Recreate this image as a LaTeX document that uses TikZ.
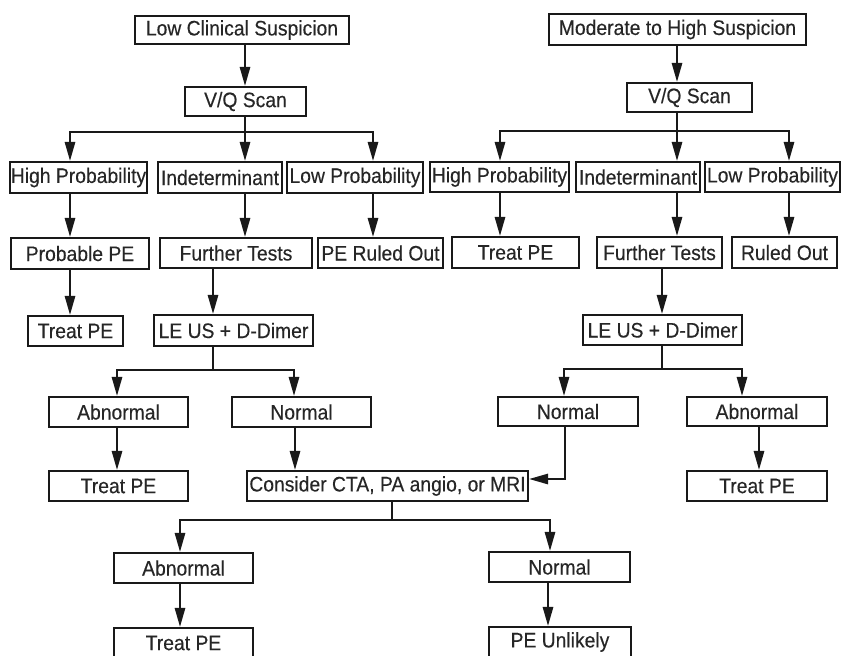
\documentclass[tikz,border=0pt]{standalone}
\usepackage{fontspec}
\setmainfont{Liberation Sans}[FakeStretch=0.92,FakeBold=0.25]
\usetikzlibrary{arrows.meta}
\tikzset{
  box/.style={draw=black!90, line width=2.4pt, inner sep=0pt, minimum height=30pt,
              font=\fontsize{21}{24}\selectfont, text=black!85},
  conn/.style={draw=black!90, line width=1.5pt},
  arr/.style={conn, -{Triangle[length=19pt,width=10.5pt]}},
}
\begin{document}
\begin{tikzpicture}[x=1pt,y=-1pt]
\useasboundingbox (0,0) rectangle (841,656);
\clip (0,0) rectangle (841,656);
\fill[white] (0,0) rectangle (841,656);

% ---------- left tree ----------
\node[box, minimum width=214pt, minimum height=28pt] (L1) at (242,30) {Low Clinical Suspicion};
\node[box, minimum width=121pt, minimum height=29pt] (L2) at (245.5,101.5) {V/Q Scan};
\node[box, minimum width=137pt, minimum height=31pt] (L3a) at (78.5,177.5) {High Probability};
\node[box, minimum width=124pt, minimum height=31pt] (L3b) at (220,177.5) {Indeterminant};
\node[box, minimum width=136pt, minimum height=31pt] (L3c) at (355,177.5) {Low Probability};
\node[box, minimum width=138pt, minimum height=31pt] (L4a) at (80,253.5) {Probable PE};
\node[box, minimum width=152pt] (L4b) at (236,253) {Further Tests};
\node[box, minimum width=125pt] (L4c) at (380.5,253) {PE Ruled Out};
\node[box, minimum width=95pt] (L5a) at (75.5,331) {Treat PE};
\node[box, minimum width=159pt, minimum height=31pt] (L5b) at (233.5,330.5) {LE US + D-Dimer};
\node[box, minimum width=139pt] (L6a) at (118.5,412) {Abnormal};
\node[box, minimum width=139pt] (L6b) at (301.5,412) {Normal};
\node[box, minimum width=139pt] (L7a) at (118.5,486) {Treat PE};
\node[box, minimum width=281pt] (C) at (387.5,486) {Consider CTA, PA angio, or MRI};
\node[box, minimum width=139pt] (L8a) at (183.5,568) {Abnormal};
\node[box, minimum width=141pt] (L8b) at (559.5,567) {Normal};
\node[box, minimum width=139pt] (L9a) at (183.5,643) {Treat PE};
\node[box, minimum width=142pt] (L9b) at (560,642) {PE Unlikely};

% ---------- right tree ----------
\node[box, minimum width=257pt, minimum height=31pt] (R1) at (677.5,29.5) {Moderate to High Suspicion};
\node[box, minimum width=125pt, minimum height=29pt] (R2) at (689.5,97.5) {V/Q Scan};
\node[box, minimum width=139pt] (R3a) at (499.5,177) {High Probability};
\node[box, minimum width=124pt] (R3b) at (638,177) {Indeterminant};
\node[box, minimum width=135pt] (R3c) at (772.5,177) {Low Probability};
\node[box, minimum width=127pt, minimum height=31pt] (R4a) at (515.5,252.5) {Treat PE};
\node[box, minimum width=125pt, minimum height=31pt] (R4b) at (659.5,252.5) {Further Tests};
\node[box, minimum width=105pt, minimum height=31pt] (R4c) at (784.5,252.5) {Ruled Out};
\node[box, minimum width=159pt] (R5) at (662.5,330) {LE US + D-Dimer};
\node[box, minimum width=140pt, minimum height=29pt] (R6a) at (568,411.5) {Normal};
\node[box, minimum width=140pt, minimum height=29pt] (R6b) at (757,411.5) {Abnormal};
\node[box, minimum width=140pt] (R7) at (757,486) {Treat PE};

% ---------- left connectors ----------
\draw[arr] (245,0 |- L1.south) -- (245,0 |- L2.north);
\draw[conn] (245,0 |- L2.south) -- (245,132);
\draw[arr] (245,132) -- (245,0 |- L3b.north);
\draw[arr] (245,132) -| (70,0 |- L3a.north);
\draw[arr] (245,132) -| (373,0 |- L3c.north);
\draw[arr] (70,0 |- L3a.south) -- (70,0 |- L4a.north);
\draw[arr] (245,0 |- L3b.south) -- (245,0 |- L4b.north);
\draw[arr] (373,0 |- L3c.south) -- (373,0 |- L4c.north);
\draw[arr] (70,0 |- L4a.south) -- (70,0 |- L5a.north);
\draw[arr] (213,0 |- L4b.south) -- (213,0 |- L5b.north);
\draw[conn] (213,0 |- L5b.south) -- (213,370);
\draw[arr] (213,370) -| (117,0 |- L6a.north);
\draw[arr] (213,370) -| (294,0 |- L6b.north);
\draw[arr] (117,0 |- L6a.south) -- (117,0 |- L7a.north);
\draw[arr] (295,0 |- L6b.south) -- (295,0 |- C.north);
\draw[conn] (392,0 |- C.south) -- (392,520);
\draw[arr] (392,520) -| (180,0 |- L8a.north);
\draw[arr] (392,520) -| (550,0 |- L8b.north);
\draw[arr] (180,0 |- L8a.south) -- (180,0 |- L9a.north);
\draw[arr] (548,0 |- L8b.south) -- (548,0 |- L9b.north);

% ---------- right connectors ----------
\draw[arr] (677,0 |- R1.south) -- (677,0 |- R2.north);
\draw[conn] (677,0 |- R2.south) -- (677,131);
\draw[arr] (677,131) -- (677,0 |- R3b.north);
\draw[arr] (677,131) -| (500,0 |- R3a.north);
\draw[arr] (677,131) -| (789,0 |- R3c.north);
\draw[arr] (500,0 |- R3a.south) -- (500,0 |- R4a.north);
\draw[arr] (677,0 |- R3b.south) -- (677,0 |- R4b.north);
\draw[arr] (789,0 |- R3c.south) -- (789,0 |- R4c.north);
\draw[arr] (662,0 |- R4b.south) -- (662,0 |- R5.north);
\draw[conn] (662,0 |- R5.south) -- (662,369);
\draw[arr] (662,369) -| (564,0 |- R6a.north);
\draw[arr] (662,369) -| (742,0 |- R6b.north);
\draw[arr] (565,0 |- R6a.south) |- (C.east |- 0,479);
\draw[arr] (759,0 |- R6b.south) -- (759,0 |- R7.north);
\end{tikzpicture}
\end{document}
